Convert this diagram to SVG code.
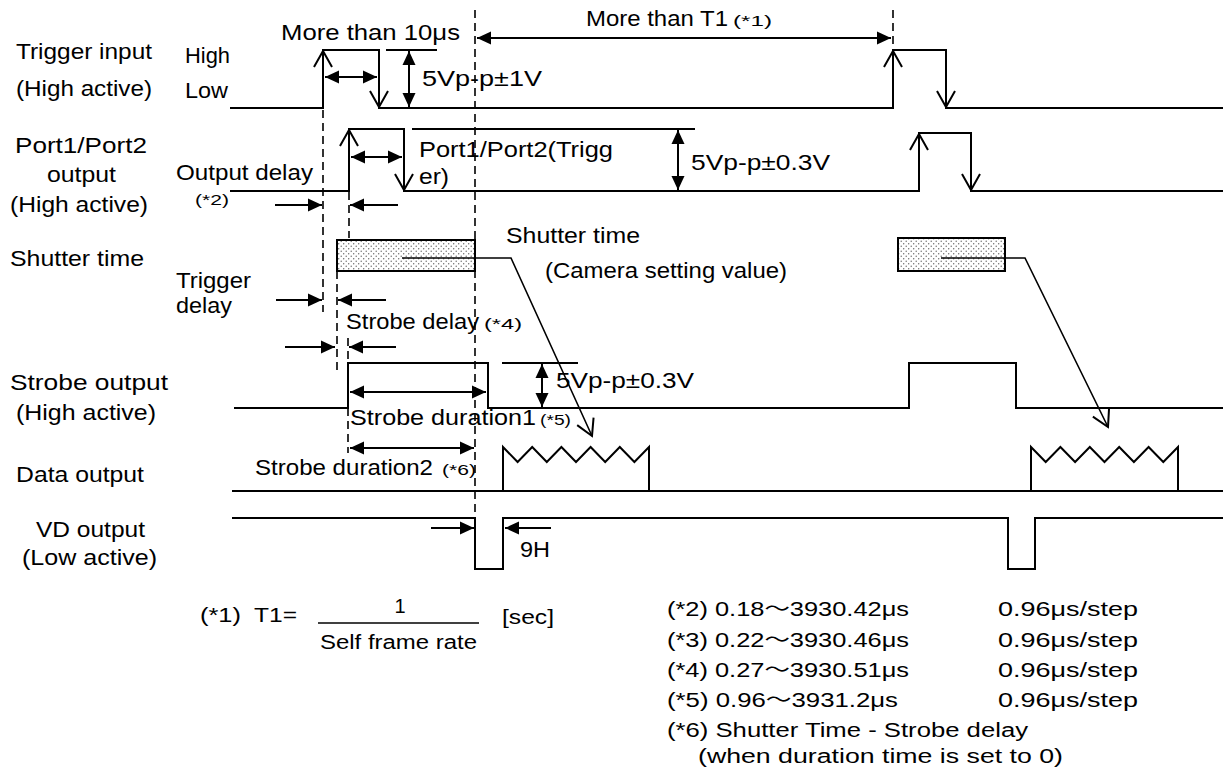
<svg xmlns="http://www.w3.org/2000/svg" width="1230" height="771" viewBox="0 0 1230 771">
<style>
.sig{fill:none;stroke:#000;stroke-width:2}
.thin{fill:none;stroke:#000;stroke-width:1.6}
.dash{fill:none;stroke:#000;stroke-width:1.6;stroke-dasharray:8 5}
.dim{fill:none;stroke:#000;stroke-width:2}
.t{font-family:"Liberation Sans","Noto Sans CJK JP",sans-serif;font-size:22px;fill:#000}
.m{font-family:"Liberation Sans","Noto Sans CJK JP",sans-serif;font-size:20px;fill:#000}
.s{font-family:"Liberation Sans","Noto Sans CJK JP",sans-serif;font-size:15px;fill:#000}
.box{fill:url(#dots);stroke:#000;stroke-width:2}
</style>
<defs>
<pattern id="dots" width="5" height="5" patternUnits="userSpaceOnUse">
<rect width="5" height="5" fill="#fff"/>
<circle cx="1.2" cy="1.2" r="0.7" fill="#666"/>
<circle cx="3.7" cy="3.7" r="0.7" fill="#666"/>
</pattern>
<marker id="fa" viewBox="-14 -7 15 14" refX="0" refY="0" markerWidth="15" markerHeight="14" markerUnits="userSpaceOnUse" orient="auto-start-reverse">
<path d="M-14,-6.5 L0,0 L-14,6.5 z" fill="#000"/>
</marker>
<marker id="oa" viewBox="-18 -11 20 22" refX="0" refY="0" markerWidth="20" markerHeight="22" markerUnits="userSpaceOnUse" orient="auto">
<path d="M-16,-9 L0,0 L-16,9" fill="none" stroke="#000" stroke-width="2"/>
</marker>
</defs>

<g id="trigger-input">
<text class="t" x="16" y="59" textLength="136" lengthAdjust="spacingAndGlyphs">Trigger input</text>
<text class="t" x="16" y="96" textLength="136" lengthAdjust="spacingAndGlyphs">(High active)</text>
<text class="t" x="185" y="63" textLength="45" lengthAdjust="spacingAndGlyphs">High</text>
<text class="t" x="185" y="98" textLength="43" lengthAdjust="spacingAndGlyphs">Low</text>
<polyline class="sig" points="230,108 323,108 323,50 379,50 379,108 893,108 893,50 946,50 946,108 1223,108"/>
<text class="t" x="281" y="40" textLength="179" lengthAdjust="spacingAndGlyphs">More than 10μs</text>
<text class="t" x="422" y="86" textLength="120" lengthAdjust="spacingAndGlyphs">5Vp-p±1V</text>
<text class="t" x="586" y="26" textLength="142" lengthAdjust="spacingAndGlyphs">More than T1</text>
<text class="s" x="733" y="26" textLength="39" lengthAdjust="spacingAndGlyphs">(*1)</text>
</g>

<g id="port-output">
<text class="t" x="15" y="153" textLength="132" lengthAdjust="spacingAndGlyphs">Port1/Port2</text>
<text class="t" x="47" y="182" textLength="69" lengthAdjust="spacingAndGlyphs">output</text>
<text class="t" x="10" y="212" textLength="138" lengthAdjust="spacingAndGlyphs">(High active)</text>
<polyline class="sig" points="230,191 349,191 349,129 404,129 404,191 919,191 919,133 971,133 971,191 1223,191"/>
<text class="t" x="176" y="180" textLength="137" lengthAdjust="spacingAndGlyphs">Output delay</text>
<text class="s" x="195" y="205" textLength="34" lengthAdjust="spacingAndGlyphs">(*2)</text>
<text class="t" x="419" y="157" textLength="194" lengthAdjust="spacingAndGlyphs">Port1/Port2(Trigg</text>
<text class="t" x="419" y="184" textLength="30" lengthAdjust="spacingAndGlyphs">er)</text>
<text class="t" x="691" y="170" textLength="139" lengthAdjust="spacingAndGlyphs">5Vp-p±0.3V</text>
</g>

<g id="shutter-time">
<text class="t" x="10" y="266" textLength="134" lengthAdjust="spacingAndGlyphs">Shutter time</text>
<rect class="box" x="337" y="240" width="138" height="31"/>
<rect class="box" x="898" y="238" width="107" height="33"/>
<text class="t" x="176" y="288" textLength="75" lengthAdjust="spacingAndGlyphs">Trigger</text>
<text class="t" x="176" y="313" textLength="56" lengthAdjust="spacingAndGlyphs">delay</text>
<text class="t" x="506" y="243" textLength="134" lengthAdjust="spacingAndGlyphs">Shutter time</text>
<text class="t" x="545" y="278" textLength="242" lengthAdjust="spacingAndGlyphs">(Camera setting value)</text>
<text class="t" x="346" y="329" textLength="133" lengthAdjust="spacingAndGlyphs">Strobe delay</text>
<text class="s" x="484" y="329" textLength="38" lengthAdjust="spacingAndGlyphs">(*4)</text>
</g>

<g id="strobe-output">
<text class="t" x="10" y="390" textLength="158" lengthAdjust="spacingAndGlyphs">Strobe  output</text>
<text class="t" x="16" y="420" textLength="140" lengthAdjust="spacingAndGlyphs">(High active)</text>
<polyline class="sig" points="234,408 348,408 348,363 488,363 488,408 909,408 909,363 1016,363 1016,408 1223,408"/>
<text class="t" x="556" y="388" textLength="138" lengthAdjust="spacingAndGlyphs">5Vp-p±0.3V</text>
<text class="t" x="350" y="425" textLength="186" lengthAdjust="spacingAndGlyphs">Strobe duration1</text>
<text class="s" x="540" y="425" textLength="31" lengthAdjust="spacingAndGlyphs">(*5)</text>
<text class="t" x="255" y="475" textLength="178" lengthAdjust="spacingAndGlyphs">Strobe duration2</text>
<text class="s" x="442" y="475" textLength="34" lengthAdjust="spacingAndGlyphs">(*6)</text>
</g>

<g id="data-output">
<text class="t" x="16" y="482" textLength="128" lengthAdjust="spacingAndGlyphs">Data output</text>
<line class="sig" x1="232" y1="491" x2="1223" y2="491"/>
<polyline class="sig" points="503,491 503,447 517.6,462 532.2,447 546.8,462 561.4,447 576,462 590.6,447 605.2,462 619.8,447 634.4,462 649,447 649,491"/>
<polyline class="sig" points="1031,491 1031,447 1045.7,462 1060.4,447 1075.1,462 1089.8,447 1104.5,462 1119.2,447 1133.9,462 1148.6,447 1163.3,462 1178,447 1178,491"/>
</g>

<g id="vd-output">
<text class="t" x="36" y="537" textLength="109" lengthAdjust="spacingAndGlyphs">VD output</text>
<text class="t" x="22" y="565" textLength="135" lengthAdjust="spacingAndGlyphs">(Low active)</text>
<polyline class="sig" points="232,518 475,518 475,569 503,569 503,518 1008,518 1008,569 1035,569 1035,518 1223,518"/>
<text class="t" x="520" y="557" textLength="30" lengthAdjust="spacingAndGlyphs">9H</text>
</g>

<g id="connectors">
<!-- dashed guide lines -->
<line class="dash" x1="475" y1="10" x2="475" y2="518"/>
<line class="dash" x1="893" y1="10" x2="893" y2="46"/>
<line class="dash" x1="323" y1="110" x2="323" y2="312"/>
<line class="dash" x1="349" y1="192" x2="349" y2="238"/>
<line class="dash" x1="337" y1="271" x2="337" y2="372"/>
<line class="dash" x1="348" y1="338" x2="348" y2="363"/>
<line class="dash" x1="348" y1="408" x2="348" y2="453"/>
<!-- edge arrows (open) -->
<line class="sig" x1="323" y1="108" x2="323" y2="51" marker-end="url(#oa)"/>
<line class="sig" x1="379" y1="50" x2="379" y2="107" marker-end="url(#oa)"/>
<line class="sig" x1="893" y1="108" x2="893" y2="51" marker-end="url(#oa)"/>
<line class="sig" x1="946" y1="50" x2="946" y2="107" marker-end="url(#oa)"/>
<line class="sig" x1="349" y1="191" x2="349" y2="130" marker-end="url(#oa)"/>
<line class="sig" x1="404" y1="129" x2="404" y2="190" marker-end="url(#oa)"/>
<line class="sig" x1="919" y1="191" x2="919" y2="134" marker-end="url(#oa)"/>
<line class="sig" x1="971" y1="133" x2="971" y2="190" marker-end="url(#oa)"/>
<!-- double arrows -->
<line class="dim" x1="325" y1="77" x2="377" y2="77" marker-start="url(#fa)" marker-end="url(#fa)"/>
<line class="dim" x1="409" y1="51" x2="409" y2="107" marker-start="url(#fa)" marker-end="url(#fa)"/>
<line class="dim" x1="386" y1="50" x2="437" y2="50"/>
<line class="dim" x1="477" y1="38" x2="891" y2="38" marker-start="url(#fa)" marker-end="url(#fa)"/>
<line class="dim" x1="351" y1="157" x2="402" y2="157" marker-start="url(#fa)" marker-end="url(#fa)"/>
<line class="dim" x1="412" y1="129" x2="695" y2="129"/>
<line class="dim" x1="678" y1="130" x2="678" y2="190" marker-start="url(#fa)" marker-end="url(#fa)"/>
<line class="dim" x1="350" y1="392" x2="486" y2="392" marker-start="url(#fa)" marker-end="url(#fa)"/>
<line class="dim" x1="502" y1="363" x2="578" y2="363"/>
<line class="dim" x1="542" y1="364" x2="542" y2="407" marker-start="url(#fa)" marker-end="url(#fa)"/>
<line class="dim" x1="350" y1="448" x2="474" y2="448" marker-start="url(#fa)" marker-end="url(#fa)"/>
<!-- single dimension arrows -->
<line class="dim" x1="275" y1="205" x2="322" y2="205" marker-end="url(#fa)"/>
<line class="dim" x1="398" y1="205" x2="350" y2="205" marker-end="url(#fa)"/>
<line class="dim" x1="276" y1="300" x2="322" y2="300" marker-end="url(#fa)"/>
<line class="dim" x1="386" y1="300" x2="338" y2="300" marker-end="url(#fa)"/>
<line class="dim" x1="285" y1="347" x2="335" y2="347" marker-end="url(#fa)"/>
<line class="dim" x1="396" y1="347" x2="349" y2="347" marker-end="url(#fa)"/>
<line class="dim" x1="431" y1="528" x2="474" y2="528" marker-end="url(#fa)"/>
<line class="dim" x1="551" y1="528" x2="505" y2="528" marker-end="url(#fa)"/>
<!-- shutter leader arrows -->
<polyline class="thin" points="402,258 511,258 592,436" marker-end="url(#oa)"/>
<polyline class="thin" points="941,258 1025,258 1108,427" marker-end="url(#oa)"/>
</g>

<g id="formula">
<text class="m" x="200" y="622" textLength="41" lengthAdjust="spacingAndGlyphs">(*1)</text>
<text class="m" x="254" y="622" textLength="43" lengthAdjust="spacingAndGlyphs">T1=</text>
<text class="m" x="400" y="613" text-anchor="middle">1</text>
<line class="thin" x1="318" y1="623" x2="479" y2="623"/>
<text class="m" x="320" y="649" textLength="157" lengthAdjust="spacingAndGlyphs">Self frame rate</text>
<text class="m" x="502" y="624" textLength="52" lengthAdjust="spacingAndGlyphs">[sec]</text>
</g>

<g id="notes">
<text class="m" x="667" y="616" textLength="242" lengthAdjust="spacingAndGlyphs">(*2) 0.18～3930.42μs</text>
<text class="m" x="998" y="616" textLength="140" lengthAdjust="spacingAndGlyphs">0.96μs/step</text>
<text class="m" x="667" y="647" textLength="242" lengthAdjust="spacingAndGlyphs">(*3) 0.22～3930.46μs</text>
<text class="m" x="998" y="647" textLength="140" lengthAdjust="spacingAndGlyphs">0.96μs/step</text>
<text class="m" x="667" y="677" textLength="242" lengthAdjust="spacingAndGlyphs">(*4) 0.27～3930.51μs</text>
<text class="m" x="998" y="677" textLength="140" lengthAdjust="spacingAndGlyphs">0.96μs/step</text>
<text class="m" x="667" y="707" textLength="231" lengthAdjust="spacingAndGlyphs">(*5) 0.96～3931.2μs</text>
<text class="m" x="998" y="707" textLength="140" lengthAdjust="spacingAndGlyphs">0.96μs/step</text>
<text class="m" x="667" y="737" textLength="361" lengthAdjust="spacingAndGlyphs">(*6) Shutter Time - Strobe delay</text>
<text class="m" x="698" y="763" textLength="365" lengthAdjust="spacingAndGlyphs">(when duration time is set to 0)</text>
</g>
</svg>
